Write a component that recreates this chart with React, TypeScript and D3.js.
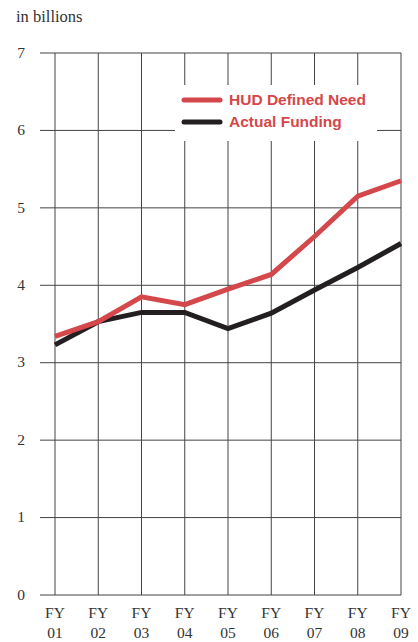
import React from "react";
import * as d3 from "d3";

const years = ["01", "02", "03", "04", "05", "06", "07", "08", "09"];
const hudNeed = [3.34, 3.53, 3.85, 3.75, 3.95, 4.14, 4.63, 5.15, 5.35];
const actualFunding = [3.23, 3.53, 3.65, 3.65, 3.44, 3.64, 3.94, 4.23, 4.54];
const yTicks = [0, 1, 2, 3, 4, 5, 6, 7];
const seriesNames = ["HUD Defined Need", "Actual Funding"];

const W = 418;
const H = 642;
const RED = "#d4474a";
const BLACK = "#231f20";
const GRID = "#444";
const SERIF = "'Liberation Serif', 'DejaVu Serif', serif";
const SANS = "'Liberation Sans', Arial, sans-serif";

export default function App() {
  const x = d3.scalePoint<string>().domain(years).range([55, 401]);
  const y = d3.scaleLinear().domain([0, 7]).range([595, 53]);
  const line = d3
    .line<number>()
    .x((_, i) => x(years[i]) as number)
    .y((d) => y(d));

  return (
    <svg
      width={W}
      height={H}
      style={{ position: "absolute", left: 0, top: 0, background: "#fff" }}
    >
      <text x={16} y={22} fontFamily={SERIF} fontSize={16.5} fill="#333">
        in billions
      </text>
      {yTicks.map((t) => (
        <g key={t}>
          <line x1={40} x2={401} y1={y(t)} y2={y(t)} stroke={GRID} strokeWidth={1} />
          <text
            x={21}
            y={y(t)}
            dy="0.3em"
            textAnchor="middle"
            fontFamily={SERIF}
            fontSize={15.5}
            fill="#333"
          >
            {t}
          </text>
        </g>
      ))}
      {years.map((yr) => (
        <g key={yr}>
          <line
            x1={x(yr)}
            x2={x(yr)}
            y1={y(7)}
            y2={y(0)}
            stroke={GRID}
            strokeWidth={1}
          />
          <text
            x={x(yr)}
            y={618}
            textAnchor="middle"
            fontFamily={SERIF}
            fontSize={15.5}
            fill="#333"
          >
            FY
          </text>
          <text
            x={x(yr)}
            y={638}
            textAnchor="middle"
            fontFamily={SERIF}
            fontSize={15.5}
            fill="#333"
          >
            {yr}
          </text>
        </g>
      ))}
      <rect x={175} y={85} width={202} height={56} fill="#fff" />
      <path d={line(actualFunding) || ""} fill="none" stroke={BLACK} strokeWidth={5} strokeLinejoin="miter" />
      <path d={line(hudNeed) || ""} fill="none" stroke={RED} strokeWidth={5} strokeLinejoin="miter" />
      <line x1={184} x2={220} y1={100} y2={100} stroke={RED} strokeWidth={5} strokeLinecap="round" />
      <line x1={184} x2={220} y1={122} y2={122} stroke={BLACK} strokeWidth={5} strokeLinecap="round" />
      <text x={229} y={105} fontFamily={SANS} fontWeight="bold" fontSize={15.5} fill={RED}>
        {seriesNames[0]}
      </text>
      <text x={229} y={127} fontFamily={SANS} fontWeight="bold" fontSize={15.5} fill={RED}>
        {seriesNames[1]}
      </text>
    </svg>
  );
}
